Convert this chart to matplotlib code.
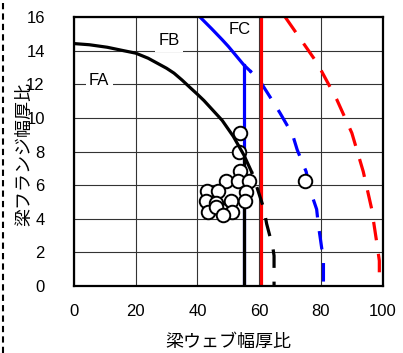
import matplotlib
matplotlib.use("Agg")
import matplotlib.pyplot as plt
from matplotlib.lines import Line2D

plt.rcParams['font.family'] = ['Liberation Sans', 'Noto Sans CJK JP', 'DejaVu Sans']

# FA limit curve (solid part, dashed extension, vertical limit)
fa_solid_x = [0, 5, 10.8, 16, 20, 24, 27, 30, 32.4, 35, 37.8, 40, 42.1, 45, 48, 51.6, 55, 57.5]
fa_solid_y = [14.42, 14.35, 14.2, 14.0, 13.85, 13.55, 13.25, 12.95, 12.66, 12.25, 11.77, 11.4,
              11.03, 10.45, 9.85, 8.9, 7.8, 6.8]
fa_dash_x = [57.5, 59.2, 61.5, 62.4, 64.4, 64.8, 64.8]
fa_dash_y = [6.8, 5.9, 4.6, 3.7, 2.3, 1.8, 0]
fa_vert_x = [55, 55]
fa_vert_y = [0, 7.8]

# FB limit curve
fb_solid_x = [40.8, 44.6, 48, 50, 52.5, 55, 57]
fb_solid_y = [16.0, 15.3, 14.65, 14.25, 13.7, 13.15, 12.8]
fb_dash_x = [57, 60, 64, 66.7, 70.8, 72.3, 75.2, 76.5, 78.6, 79.1, 80.2, 80.8, 80.8]
fb_dash_y = [12.8, 12.26, 11.1, 10.3, 9.0, 8.1, 6.8, 5.7, 4.56, 3.7, 2.3, 1.5, 0]
fb_vert_x = [55, 55]
fb_vert_y = [0, 13.15]

# FC limit
fc_vert_x = [60.6, 60.6]
fc_vert_y = [0, 16]
fc_dash_x = [68.4, 78.8, 85.1, 90, 93.7, 96.4, 98.3, 98.9, 98.9]
fc_dash_y = [16, 13.25, 11.1, 9.1, 6.8, 4.6, 2.3, 1.5, 0]

# Specimens
pts_x = [53.8, 53.6, 53.8, 49.2, 53.0, 56.7, 43.1, 46.5, 55.8, 42.9, 46.1, 51.0, 55.3,
         43.4, 47.7, 51.3, 46.1, 48.4, 74.8]
pts_y = [9.08, 7.96, 6.85, 6.25, 6.25, 6.25, 5.65, 5.65, 5.6, 5.05, 4.95, 5.05, 5.05,
         4.4, 4.55, 4.4, 4.7, 4.2, 6.25]

xticks = [0, 20, 40, 60, 80, 100]
yticks = [0, 2, 4, 6, 8, 10, 12, 14, 16]
labels = ['FA', 'FB', 'FC']
label_x = [8.2, 30.8, 53.8]
label_y = [12.2, 14.6, 15.24]

fig = plt.figure(figsize=(4.03, 3.53), dpi=100)
ax = fig.add_axes([0.1836, 0.1898, 0.9497 - 0.1836, 0.9518 - 0.1898])
ax.set_xlim(0, 100)
ax.set_ylim(0, 16)
ax.set_xticks(xticks)
ax.set_yticks(yticks)
ax.grid(True, color='#333333', lw=0.8)
ax.set_axisbelow(True)
ax.tick_params(axis='x', length=0, labelsize=12, pad=13)
ax.tick_params(axis='y', length=0, labelsize=12, pad=21)
for s in ax.spines.values():
    s.set_linewidth(1.6)
    s.set_zorder(10)

lw = 2.3
dash = (0, (5.8, 4.3))
dash_start = (5.0, (5.8, 4.3))
ax.plot(fb_vert_x, fb_vert_y, color='blue', lw=lw, zorder=3)
ax.plot(fb_solid_x, fb_solid_y, color='blue', lw=lw, zorder=3)
ax.plot(fb_dash_x, fb_dash_y, color='blue', lw=lw, ls=dash_start, zorder=3)
ax.plot(fc_vert_x, fc_vert_y, color='red', lw=lw, zorder=3)
ax.plot(fc_dash_x, fc_dash_y, color='red', lw=lw, ls=dash, zorder=3)
ax.plot(fa_vert_x, fa_vert_y, color='black', lw=lw, zorder=4)
ax.plot(fa_dash_x, fa_dash_y, color='black', lw=lw, ls=dash_start, zorder=4)
ax.scatter(pts_x, pts_y, s=95, facecolor='white', edgecolor='black', linewidth=1.4, zorder=5)
ax.plot(fa_solid_x, fa_solid_y, color='black', lw=lw, zorder=6)

for t, x, y in zip(labels, label_x, label_y):
    ax.text(x, y, t, fontsize=12, ha='center', va='center', zorder=2,
            bbox=dict(facecolor='white', edgecolor='none', pad=2.5))

ax.set_xlabel('梁ウェブ幅厚比', fontsize=13, family=['Noto Sans CJK JP'])
ax.set_ylabel('梁フランジ幅厚比', fontsize=13, family=['Noto Sans CJK JP'])
ax.xaxis.set_label_coords(0.5, -0.207)
ax.xaxis.label.set_va('center')
ax.yaxis.set_label_coords(-0.159, 0.49)
ax.yaxis.label.set_va('center')

fig.add_artist(Line2D([2.5 / 403, 2.5 / 403], [0, 1], transform=fig.transFigure,
                      color='black', lw=1.5, ls=(0, (3, 2))))

fig.savefig('out.png', dpi=100)
